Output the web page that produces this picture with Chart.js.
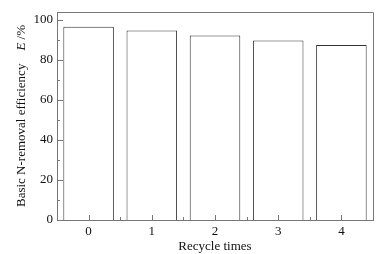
<!DOCTYPE html>
<html>
<head>
<meta charset="utf-8">
<script src="https://cdn.jsdelivr.net/npm/chart.js@4/dist/chart.umd.min.js"></script>
<style>
  html, body { margin: 0; padding: 0; background: #fff; }
  #wrap { width: 388px; height: 254px; position: relative; }
</style>
</head>
<body>
<div id="wrap"><canvas id="c"></canvas></div>
<script>
const recycleTimes = ['0', '1', '2', '3', '4'];
const efficiency = [96.6, 94.8, 92.3, 89.8, 87.5];
const yTicks = [0, 20, 40, 60, 80, 100];

const SERIF = '"Liberation Serif", "DejaVu Serif", serif';
const AXIS = '#777';

// inward ticks, frame and the mixed-style y title
const decor = {
  id: 'decor',
  afterDraw(chart) {
    const ctx = chart.ctx;
    const a = chart.chartArea;
    const x = chart.scales.x, y = chart.scales.y;
    ctx.save();
    ctx.strokeStyle = AXIS;
    ctx.lineWidth = 1;
    ctx.beginPath();
    // frame top + right
    ctx.moveTo(a.left, a.top + 0.5); ctx.lineTo(a.right + 0.5, a.top + 0.5);
    ctx.lineTo(a.right + 0.5, a.bottom);
    // y ticks
    for (let v = 0; v <= 100; v += 10) {
      const py = Math.round(y.getPixelForValue(v)) + 0.5;
      const len = v % 20 === 0 ? 6 : 3;
      ctx.moveTo(a.left, py); ctx.lineTo(a.left + len, py);
    }
    // x ticks: major at categories, minor between
    recycleTimes.forEach((lab, i) => {
      const px = Math.round(x.getPixelForValue(i)) + 0.5;
      ctx.moveTo(px, a.bottom); ctx.lineTo(px, a.bottom - 5);
      if (i < recycleTimes.length - 1) {
        const mx = Math.round((x.getPixelForValue(i) + x.getPixelForValue(i + 1)) / 2) + 0.5;
        ctx.moveTo(mx, a.bottom); ctx.lineTo(mx, a.bottom - 3);
      }
    });
    ctx.stroke();

    // y title
    ctx.translate(22, (a.top + a.bottom) / 2);
    ctx.rotate(-Math.PI / 2);
    ctx.fillStyle = '#111';
    ctx.textBaseline = 'middle';
    const p1 = 'Basic N-removal efficiency', gap = '    ', p2 = 'E', p3 = ' /%';
    ctx.font = '13px ' + SERIF;
    const w1 = ctx.measureText(p1 + gap).width, w3 = ctx.measureText(p3).width;
    ctx.font = 'italic 13px ' + SERIF;
    const w2 = ctx.measureText(p2).width;
    let sx = -(w1 + w2 + w3) / 2;
    ctx.font = '13px ' + SERIF;
    ctx.fillText(p1 + gap, sx, 0); sx += w1;
    ctx.font = 'italic 13px ' + SERIF;
    ctx.fillText(p2, sx, 0); sx += w2;
    ctx.font = '13px ' + SERIF;
    ctx.fillText(p3, sx, 0);
    ctx.restore();
  }
};

new Chart(document.getElementById('c'), {
  type: 'bar',
  data: {
    labels: recycleTimes,
    datasets: [{
      data: efficiency,
      backgroundColor: '#fff',
      borderColor: '#333',
      borderWidth: 1,
      categoryPercentage: 0.8,
      barPercentage: 1
    }]
  },
  options: {
    responsive: true,
    maintainAspectRatio: false,
    animation: false,
    layout: { padding: { top: 12, right: 15, left: 0, bottom: 0 } },
    plugins: { legend: { display: false }, tooltip: { enabled: false } },
    scales: {
      x: {
        offset: true,
        grid: { display: false, drawTicks: false },
        border: { color: AXIS },
        ticks: { color: '#111', padding: 4, font: { family: SERIF, size: 13 } },
        title: { display: true, text: 'Recycle times', color: '#111', padding: 0, font: { family: SERIF, size: 13 } },
        afterFit: s => { s.height = 34; }
      },
      y: {
        min: 0,
        max: 104,
        afterBuildTicks: s => { s.ticks = yTicks.map(v => ({ value: v })); },
        grid: { display: false, drawTicks: false },
        border: { color: AXIS },
        ticks: { color: '#111', padding: 4, font: { family: SERIF, size: 13 } },
        afterFit: s => { s.width = 57; }
      }
    }
  },
  plugins: [decor]
});
</script>
</body>
</html>
